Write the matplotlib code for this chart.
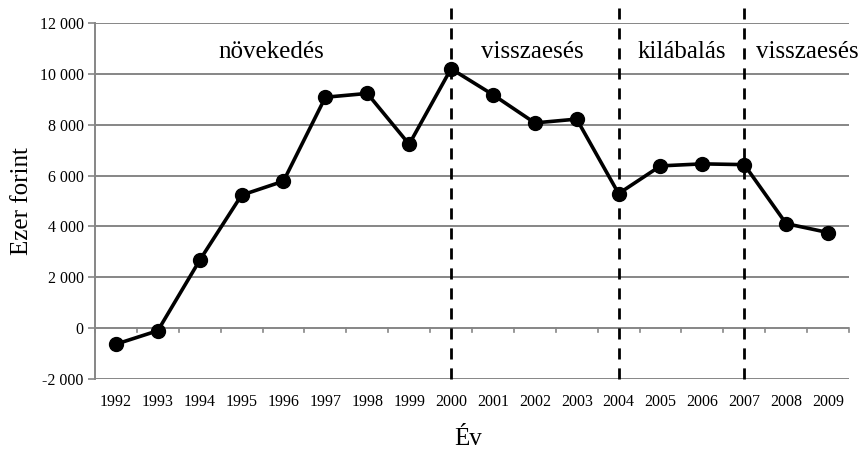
import matplotlib
matplotlib.use('Agg')
import matplotlib.pyplot as plt
import matplotlib.ticker as mticker

plt.rcParams['font.family'] = ['Liberation Serif', 'DejaVu Serif']

years = [1992, 1993, 1994, 1995, 1996, 1997, 1998, 1999, 2000,
         2001, 2002, 2003, 2004, 2005, 2006, 2007, 2008, 2009]
values = [-630, -100, 2670, 5230, 5780, 9080, 9230, 7230, 10200,
          9180, 8070, 8220, 5290, 6380, 6460, 6430, 4110, 3760]
breaks = [2000, 2004, 2007]
phases = ['növekedés', 'visszaesés', 'kilábalás', 'visszaesés']
phase_centers = [1995.7, 2001.95, 2005.5, 2008.5]
y_ticks = list(range(-2000, 12001, 2000))

grid_color = '#868686'

fig = plt.figure(figsize=(8.58, 4.55), dpi=100)
ax = fig.add_axes([0.1107, 0.167, 0.8788, 0.7825])

x = list(range(len(years)))
ax.set_xlim(-0.5, len(years) - 0.5)
ax.set_ylim(-2000, 12000)

# horizontal gridlines
for t in y_ticks:
    ax.axhline(t, color=grid_color, lw=1.4, zorder=1)

# x-axis tick marks at category boundaries on the zero line
for b in range(len(years) + 1):
    ax.plot([b - 0.5, b - 0.5], [0, -170], color=grid_color, lw=1.2, zorder=1,
            clip_on=False)

# the data line
ax.plot(x, values, color='black', lw=2.6, marker='o', markersize=10, zorder=4)

# phase separators
for br in breaks:
    xi = years.index(br)
    ax.plot([xi, xi], [-2000, 12600], color='black', lw=2, ls=(0, (4, 3.2)),
            zorder=3, clip_on=False)

for name, c in zip(phases, phase_centers):
    ax.text(c - years[0], 10850, name, fontsize=18, ha='center', va='center')

ax.set_xticks(x)
ax.set_xticklabels([str(y) for y in years], fontsize=11.5)
ax.tick_params(axis='x', length=0, pad=11)

ax.set_yticks(y_ticks)
ax.yaxis.set_major_formatter(mticker.FuncFormatter(
    lambda v, p: f'{int(v):,}'.replace(',', ' ')))
ax.tick_params(axis='y', length=5, color=grid_color, width=1.2, labelsize=11.5, pad=3)

for s in ['top', 'right', 'bottom']:
    ax.spines[s].set_visible(False)
ax.spines['left'].set_color(grid_color)
ax.spines['left'].set_linewidth(1.4)

ax.set_ylabel('Ezer forint', fontsize=18, labelpad=5)
fig.text(0.545, 0.035, 'Év', fontsize=18, ha='center', va='center')

fig.savefig('out.png', dpi=100)
